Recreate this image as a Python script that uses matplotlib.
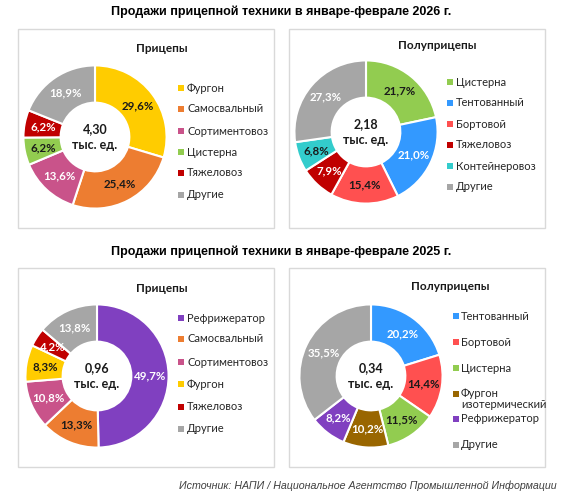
import math
import matplotlib.pyplot as plt
from matplotlib.patches import Rectangle

# --- data ---
tl_labels = ['Фургон', 'Самосвальный', 'Сортиментовоз', 'Цистерна', 'Тяжеловоз', 'Другие']
tl_values = [29.6, 25.4, 13.6, 6.2, 6.2, 18.9]
tr_labels = ['Цистерна', 'Тентованный', 'Бортовой', 'Тяжеловоз', 'Контейнеровоз', 'Другие']
tr_values = [21.7, 21.0, 15.4, 7.9, 6.8, 27.3]
bl_labels = ['Рефрижератор', 'Самосвальный', 'Сортиментовоз', 'Фургон', 'Тяжеловоз', 'Другие']
bl_values = [49.7, 13.3, 10.8, 8.3, 4.2, 13.8]
br_labels = ['Тентованный', 'Бортовой', 'Цистерна', 'Фургон\nизотермический', 'Рефрижератор', 'Другие']
br_values = [20.2, 14.4, 11.5, 10.2, 8.2, 35.5]
totals = ['4,30', '2,18', '0,96', '0,34']
subtitles = ['Прицепы', 'Полуприцепы', 'Прицепы', 'Полуприцепы']
titles = ['Продажи прицепной техники в январе-феврале 2026 г.',
          'Продажи прицепной техники в январе-феврале 2025 г.']
source = 'Источник: НАПИ / Национальное Агентство Промышленной Информации'

colors = {
    'Фургон': '#FFCC00', 'Самосвальный': '#ED7D31', 'Сортиментовоз': '#C9538A',
    'Цистерна': '#92CC50', 'Тяжеловоз': '#C00000', 'Другие': '#A6A6A6',
    'Тентованный': '#3399FF', 'Бортовой': '#FF5050', 'Контейнеровоз': '#33CCCC',
    'Рефрижератор': '#8040C0', 'Фургон\nизотермический': '#996600',
}
dark_text = {'Фургон', 'Самосвальный', 'Цистерна', 'Бортовой', 'Контейнеровоз'}

W, H = 568, 497
FONT = ['Lato', 'DejaVu Sans']
ARIAL = ['Liberation Sans', 'DejaVu Sans']
fig = plt.figure(figsize=(W / 100, H / 100), dpi=100)
fig.patch.set_facecolor('white')


def fx(x):
    return x / W


def fy(y):
    return 1 - y / H


def comma(v):
    return f'{v:.1f}'.replace('.', ',') + '%'


# panel layout: box, donut centre, subtitle, legend marker x, text x, row y's
panels = [
    dict(box=(18, 29, 274, 228), c=(95, 137), sub=(162, 48), mx=181, tx=187,
         rows=[88, 109, 131, 152, 173, 195]),
    dict(box=(289, 29, 545, 228), c=(366, 132), sub=(437, 46), mx=450, tx=456,
         rows=[82, 103, 124, 145, 166, 187]),
    dict(box=(18, 268, 274, 467), c=(97, 376), sub=(162, 289), mx=181, tx=187,
         rows=[318, 339, 362, 384, 407, 429]),
    dict(box=(289, 268, 545, 467), c=(371, 376), sub=(450, 287), mx=456, tx=461,
         rows=[316, 342, 368, 394, 419, 445]),
]
datasets = [(tl_labels, tl_values), (tr_labels, tr_values),
            (bl_labels, bl_values), (br_labels, br_values)]

R = 73
for i, (p, (labels, values)) in enumerate(zip(panels, datasets)):
    x0, y0, x1, y1 = p['box']
    fig.patches.append(Rectangle((fx(x0), fy(y1)), fx(x1 - x0), (y1 - y0) / H,
                                 transform=fig.transFigure, fill=False,
                                 edgecolor='#D9D9D9', linewidth=1.0))
    cx, cy = p['c']
    ax = fig.add_axes([fx(cx - R), fy(cy + R), 2 * R / W, 2 * R / H])
    wedges, _ = ax.pie(values, colors=[colors[l] for l in labels], startangle=90,
                       counterclock=False, radius=1,
                       wedgeprops=dict(width=0.52, edgecolor='white', linewidth=1.5))
    ax.set_xlim(-1.02, 1.02)
    ax.set_ylim(-1.02, 1.02)
    ax.set_aspect('equal')
    ax.axis('off')
    for w, l, v in zip(wedges, labels, values):
        ang = math.radians((w.theta1 + w.theta2) / 2)
        rr = 0.74
        ax.text(rr * math.cos(ang), rr * math.sin(ang), comma(v), ha='center', va='center',
                fontsize=8.3, fontweight='bold', family=FONT,
                color='#1A1A1A' if l in dark_text else 'white')
    ax.text(0, 0, totals[i] + '\nтыс. ед.', ha='center', va='center', fontsize=9,
            fontweight='bold', family=FONT, linespacing=1.4, color='#1A1A1A')

    fig.text(fx(p['sub'][0]), fy(p['sub'][1]), subtitles[i], ha='center', va='center',
             fontsize=8.5, fontweight='bold', family=FONT, color='#1A1A1A')
    for l, ry in zip(labels, p['rows']):
        fig.patches.append(Rectangle((fx(p['mx'] - 3), fy(ry + 3)), 6 / W, 6 / H,
                                     transform=fig.transFigure, facecolor=colors[l],
                                     edgecolor='none'))
        ty = ry + 5 if '\n' in l else ry
        fig.text(fx(p['tx']), fy(ty), l, ha='left', va='center', fontsize=8,
                 family=FONT, color='#262626', linespacing=0.95)

fig.text(fx(281), fy(12), titles[0], ha='center', va='center', fontsize=9,
         fontweight='bold', family=ARIAL, color='black')
fig.text(fx(281), fy(252), titles[1], ha='center', va='center', fontsize=9,
         fontweight='bold', family=ARIAL, color='black')
fig.text(fx(557), fy(486), source, ha='right', va='center', fontsize=7.7,
         style='italic', family=ARIAL, color='#404040')

fig.savefig('out.png', dpi=100, facecolor='white')
